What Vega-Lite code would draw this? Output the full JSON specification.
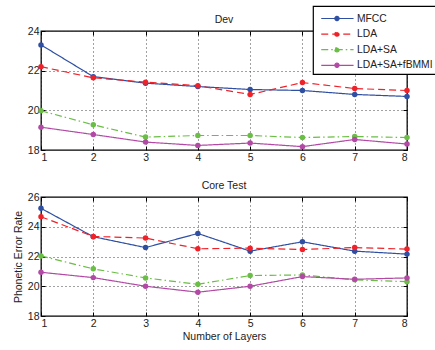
{
  "$schema": "https://vega.github.io/schema/vega-lite/v6.json",
  "padding": {"left": 12, "top": 5, "right": 0, "bottom": 2},
  "background": "white",
  "config": {
    "font": "Liberation Sans",
    "view": {"stroke": "black", "strokeWidth": 1.3},
    "axis": {
      "grid": true, "gridDash": [1, 3], "gridColor": "#444", "gridWidth": 1,
      "domain": false, "tickSize": -4, "tickColor": "black", "tickWidth": 1,
      "labelFontSize": 10.5, "labelColor": "#222", "labelPadding": 6,
      "titleFontSize": 10.5, "titleFontWeight": "normal", "titleColor": "#222"
    },
    "title": {"fontSize": 10.5, "fontWeight": "normal", "offset": 1, "color": "#222"},
    "legend": {
      "orient": "none", "legendX": 272, "legendY": -25,
      "fillColor": "white", "strokeColor": "black", "strokeWidth": 1.2, "padding": 3,
      "labelFontSize": 10.3, "labelColor": "#222", "labelLimit": 200, "labelOffset": 22,
      "symbolType": "M-0.5,0H3.3M1.1,0a0.25,0.25 0 1,0 0.5,0a0.25,0.25 0 1,0 -0.5,0",
      "symbolSize": 289, "symbolStrokeWidth": 1.2, "rowPadding": 0.6, "title": null
    }
  },
  "data": {"values": [
    {"set": "Dev", "layer": 1, "system": "MFCC", "per": 23.3},
    {"set": "Dev", "layer": 2, "system": "MFCC", "per": 21.7},
    {"set": "Dev", "layer": 3, "system": "MFCC", "per": 21.37},
    {"set": "Dev", "layer": 4, "system": "MFCC", "per": 21.2},
    {"set": "Dev", "layer": 5, "system": "MFCC", "per": 21.05},
    {"set": "Dev", "layer": 6, "system": "MFCC", "per": 21.0},
    {"set": "Dev", "layer": 7, "system": "MFCC", "per": 20.8},
    {"set": "Dev", "layer": 8, "system": "MFCC", "per": 20.7},
    {"set": "Dev", "layer": 1, "system": "LDA", "per": 22.2},
    {"set": "Dev", "layer": 2, "system": "LDA", "per": 21.64},
    {"set": "Dev", "layer": 3, "system": "LDA", "per": 21.42},
    {"set": "Dev", "layer": 4, "system": "LDA", "per": 21.24},
    {"set": "Dev", "layer": 5, "system": "LDA", "per": 20.8},
    {"set": "Dev", "layer": 6, "system": "LDA", "per": 21.4},
    {"set": "Dev", "layer": 7, "system": "LDA", "per": 21.1},
    {"set": "Dev", "layer": 8, "system": "LDA", "per": 21.0},
    {"set": "Dev", "layer": 1, "system": "LDA+SA", "per": 19.98},
    {"set": "Dev", "layer": 2, "system": "LDA+SA", "per": 19.27},
    {"set": "Dev", "layer": 3, "system": "LDA+SA", "per": 18.65},
    {"set": "Dev", "layer": 4, "system": "LDA+SA", "per": 18.73},
    {"set": "Dev", "layer": 5, "system": "LDA+SA", "per": 18.73},
    {"set": "Dev", "layer": 6, "system": "LDA+SA", "per": 18.63},
    {"set": "Dev", "layer": 7, "system": "LDA+SA", "per": 18.68},
    {"set": "Dev", "layer": 8, "system": "LDA+SA", "per": 18.63},
    {"set": "Dev", "layer": 1, "system": "LDA+SA+fBMMI", "per": 19.15},
    {"set": "Dev", "layer": 2, "system": "LDA+SA+fBMMI", "per": 18.78},
    {"set": "Dev", "layer": 3, "system": "LDA+SA+fBMMI", "per": 18.4},
    {"set": "Dev", "layer": 4, "system": "LDA+SA+fBMMI", "per": 18.23},
    {"set": "Dev", "layer": 5, "system": "LDA+SA+fBMMI", "per": 18.35},
    {"set": "Dev", "layer": 6, "system": "LDA+SA+fBMMI", "per": 18.17},
    {"set": "Dev", "layer": 7, "system": "LDA+SA+fBMMI", "per": 18.53},
    {"set": "Dev", "layer": 8, "system": "LDA+SA+fBMMI", "per": 18.3},
    {"set": "Core", "layer": 1, "system": "MFCC", "per": 25.24},
    {"set": "Core", "layer": 2, "system": "MFCC", "per": 23.33},
    {"set": "Core", "layer": 3, "system": "MFCC", "per": 22.6},
    {"set": "Core", "layer": 4, "system": "MFCC", "per": 23.55},
    {"set": "Core", "layer": 5, "system": "MFCC", "per": 22.36},
    {"set": "Core", "layer": 6, "system": "MFCC", "per": 22.99},
    {"set": "Core", "layer": 7, "system": "MFCC", "per": 22.36},
    {"set": "Core", "layer": 8, "system": "MFCC", "per": 22.16},
    {"set": "Core", "layer": 1, "system": "LDA", "per": 24.67},
    {"set": "Core", "layer": 2, "system": "LDA", "per": 23.35},
    {"set": "Core", "layer": 3, "system": "LDA", "per": 23.24},
    {"set": "Core", "layer": 4, "system": "LDA", "per": 22.52},
    {"set": "Core", "layer": 5, "system": "LDA", "per": 22.56},
    {"set": "Core", "layer": 6, "system": "LDA", "per": 22.47},
    {"set": "Core", "layer": 7, "system": "LDA", "per": 22.6},
    {"set": "Core", "layer": 8, "system": "LDA", "per": 22.5},
    {"set": "Core", "layer": 1, "system": "LDA+SA", "per": 22.04},
    {"set": "Core", "layer": 2, "system": "LDA+SA", "per": 21.17},
    {"set": "Core", "layer": 3, "system": "LDA+SA", "per": 20.56},
    {"set": "Core", "layer": 4, "system": "LDA+SA", "per": 20.13},
    {"set": "Core", "layer": 5, "system": "LDA+SA", "per": 20.72},
    {"set": "Core", "layer": 6, "system": "LDA+SA", "per": 20.76},
    {"set": "Core", "layer": 7, "system": "LDA+SA", "per": 20.43},
    {"set": "Core", "layer": 8, "system": "LDA+SA", "per": 20.31},
    {"set": "Core", "layer": 1, "system": "LDA+SA+fBMMI", "per": 20.94},
    {"set": "Core", "layer": 2, "system": "LDA+SA+fBMMI", "per": 20.58},
    {"set": "Core", "layer": 3, "system": "LDA+SA+fBMMI", "per": 20.0},
    {"set": "Core", "layer": 4, "system": "LDA+SA+fBMMI", "per": 19.6},
    {"set": "Core", "layer": 5, "system": "LDA+SA+fBMMI", "per": 20.0},
    {"set": "Core", "layer": 6, "system": "LDA+SA+fBMMI", "per": 20.65},
    {"set": "Core", "layer": 7, "system": "LDA+SA+fBMMI", "per": 20.47},
    {"set": "Core", "layer": 8, "system": "LDA+SA+fBMMI", "per": 20.56}
  ]},
  "vconcat": [
    {
      "title": "Dev",
      "width": 366, "height": 119,
      "transform": [{"filter": "datum.set == 'Dev'"}],
      "layer": [
        {
          "mark": {"type": "line", "strokeWidth": 1.2, "point": {"filled": true, "size": 30}},
          "encoding": {
            "x": {"field": "layer", "type": "quantitative", "scale": {"domain": [1, 8], "nice": false}, "axis": {"values": [1, 2, 3, 4, 5, 6, 7, 8], "title": null}},
            "y": {"field": "per", "type": "quantitative", "scale": {"domain": [18, 24], "nice": false, "zero": false}, "axis": {"values": [18, 20, 22, 24], "title": " "}},
            "color": {"field": "system", "type": "nominal", "scale": {"domain": ["MFCC", "LDA", "LDA+SA", "LDA+SA+fBMMI"], "range": ["#2F4FA3", "#EE2228", "#6ABD45", "#B24AA5"]},
              "legend": {"encode": {"symbols": {"update": {"fill": {"scale": "color", "field": "value"}}}}}},
            "strokeDash": {"field": "system", "type": "nominal", "scale": {"domain": ["MFCC", "LDA", "LDA+SA", "LDA+SA+fBMMI"], "range": [[1, 0], [7, 4], [7, 3, 1.5, 3], [1, 0]]}}
          }
        },
        {
          "mark": {"type": "point", "opacity": 0},
          "encoding": {
            "x": {"field": "layer", "type": "quantitative", "scale": {"domain": [1, 8], "nice": false}, "axis": {"orient": "top", "values": [1, 2, 3, 4, 5, 6, 7, 8], "labels": false, "grid": false, "title": null}},
            "y": {"field": "per", "type": "quantitative", "scale": {"domain": [18, 24], "nice": false, "zero": false}, "axis": {"orient": "right", "values": [18, 20, 22, 24], "labels": false, "grid": false, "title": null}}
          }
        }
      ],
      "resolve": {"axis": {"x": "independent", "y": "independent"}}
    },
    {
      "title": "Core Test",
      "width": 366, "height": 119,
      "transform": [{"filter": "datum.set == 'Core'"}],
      "layer": [
        {
          "mark": {"type": "line", "strokeWidth": 1.2, "point": {"filled": true, "size": 30}},
          "encoding": {
            "x": {"field": "layer", "type": "quantitative", "scale": {"domain": [1, 8], "nice": false}, "axis": {"values": [1, 2, 3, 4, 5, 6, 7, 8], "title": "Number of Layers", "titlePadding": 3}},
            "y": {"field": "per", "type": "quantitative", "scale": {"domain": [18, 26], "nice": false, "zero": false}, "axis": {"values": [18, 20, 22, 24, 26], "title": "Phonetic Error Rate"}},
            "color": {"field": "system", "type": "nominal", "scale": {"domain": ["MFCC", "LDA", "LDA+SA", "LDA+SA+fBMMI"], "range": ["#2F4FA3", "#EE2228", "#6ABD45", "#B24AA5"]},
              "legend": {"encode": {"symbols": {"update": {"fill": {"scale": "color", "field": "value"}}}}}},
            "strokeDash": {"field": "system", "type": "nominal", "scale": {"domain": ["MFCC", "LDA", "LDA+SA", "LDA+SA+fBMMI"], "range": [[1, 0], [7, 4], [7, 3, 1.5, 3], [1, 0]]}}
          }
        },
        {
          "mark": {"type": "point", "opacity": 0},
          "encoding": {
            "x": {"field": "layer", "type": "quantitative", "scale": {"domain": [1, 8], "nice": false}, "axis": {"orient": "top", "values": [1, 2, 3, 4, 5, 6, 7, 8], "labels": false, "grid": false, "title": null}},
            "y": {"field": "per", "type": "quantitative", "scale": {"domain": [18, 26], "nice": false, "zero": false}, "axis": {"orient": "right", "values": [18, 20, 22, 24, 26], "labels": false, "grid": false, "title": null}}
          }
        }
      ],
      "resolve": {"axis": {"x": "independent", "y": "independent"}}
    }
  ],
  "spacing": 15,
  "resolve": {"scale": {"y": "independent"}}
}
